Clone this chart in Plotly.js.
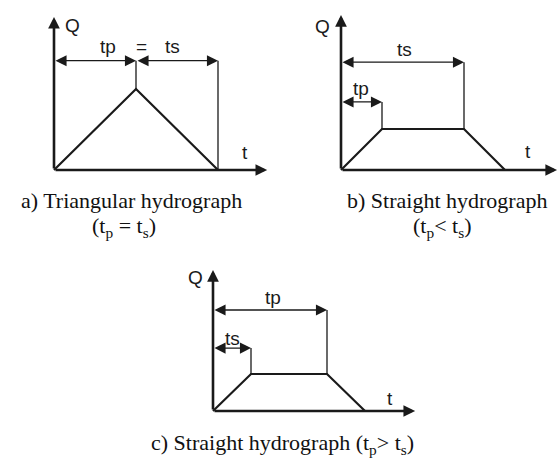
<!DOCTYPE html>
<html>
<head>
<meta charset="utf-8">
<script src="https://cdn.plot.ly/plotly-3.0.1.min.js"></script>
<style>
  html, body { margin: 0; padding: 0; background: #fff; }
  #hydro { width: 559px; height: 459px; }
</style>
</head>
<body>
<div id="hydro"></div>
<script>
// hydrograph shapes, t in units of the rising time, Q in units of the peak
const tri_t = [0, 1, 2];
const tri_Q = [0, 1, 0];
const strB_t = [0, 1, 3, 4];
const strB_Q = [0, 1, 1, 0];
const strC_t = [0, 1, 3, 4];
const strC_Q = [0, 1, 1, 0];

// dimension lines: [from t, to t, level Q, label]
const dimsA = [[0, 1, 1.35, 'tp'], [1, 2, 1.35, 'ts']];
const dimsB = [[0, 1, 1.66, 'tp'], [0, 3, 2.63, 'ts']];
const dimsC = [[0, 1, 1.70, 'ts'], [0, 3, 2.73, 'tp']];

const captions = [
  'a) Triangular hydrograph', '(t<sub>p</sub> = t<sub>s</sub>)',
  'b) Straight hydrograph', '(t<sub>p</sub>< t<sub>s</sub>)',
  'c) Straight hydrograph (t<sub>p</sub>> t<sub>s</sub>)'
];

const W = 559, H = 459;
const fx = px => px / W;
const fy = py => 1 - py / H;

// panel geometry in pixels: origin, px per unit, box, axis tips (units)
const panels = [
  {ox: 54, oy: 170, sx: 82, sy: 81, L: 40, R: 272, T: 8, B: 180, tipT: 2.6, tipQ: 1.89,
   t: tri_t, Q: tri_Q, dims: dimsA,
   labels: [['Q', 0.22, 1.79], ['tp', 0.66, 1.52], ['=', 1.07, 1.52], ['ts', 1.44, 1.52], ['t', 2.33, 0.22]]},
  {ox: 341, oy: 170, sx: 41, sy: 41, L: 305, R: 559, T: 8, B: 180, tipT: 5.27, tipQ: 3.78,
   t: strB_t, Q: strB_Q, dims: dimsB,
   labels: [['Q', -0.44, 3.49], ['ts', 1.56, 2.93], ['tp', 0.49, 2.0], ['t', 4.56, 0.46]]},
  {ox: 213, oy: 411, sx: 38, sy: 37, L: 180, R: 425, T: 262, B: 420, tipT: 5.32, tipQ: 3.81,
   t: strC_t, Q: strC_Q, dims: dimsC,
   labels: [['Q', -0.47, 3.62], ['tp', 1.58, 3.08], ['ts', 0.5, 1.95], ['t', 4.66, 0.35]]}
];

const ink = '#1a1a1a';
const labelFont = {family: 'Liberation Sans Narrow, Liberation Sans, Arial', size: 19, color: ink};
const data = [];
const annotations = [];
const layout = {
  width: W, height: H,
  margin: {l: 0, r: 0, t: 0, b: 0},
  paper_bgcolor: '#fff', plot_bgcolor: 'rgba(0,0,0,0)',
  showlegend: false
};

panels.forEach((p, i) => {
  const n = i === 0 ? '' : String(i + 1);
  const xa = 'x' + n, ya = 'y' + n;
  layout['xaxis' + n] = {
    domain: [fx(p.L), fx(p.R)], range: [(p.L - p.ox) / p.sx, (p.R - p.ox) / p.sx],
    visible: false, fixedrange: true, anchor: ya
  };
  layout['yaxis' + n] = {
    domain: [fy(p.B), fy(p.T)], range: [(p.oy - p.B) / p.sy, (p.oy - p.T) / p.sy],
    visible: false, fixedrange: true, anchor: xa
  };

  // the hydrograph
  data.push({x: p.t, y: p.Q, xaxis: xa, yaxis: ya, mode: 'lines',
             line: {color: ink, width: 2.2}, hoverinfo: 'skip'});

  // extension lines up to each dimension line
  p.dims.forEach(d => {
    const tEnd = d[1];
    const k = p.t.indexOf(tEnd);
    data.push({x: [tEnd, tEnd], y: [p.Q[k], d[2]], xaxis: xa, yaxis: ya, mode: 'lines',
               line: {color: ink, width: 1.3}, hoverinfo: 'skip'});
    annotations.push({xref: xa, yref: ya, axref: xa, ayref: ya,
      x: d[1], y: d[2], ax: d[0], ay: d[2], text: '', showarrow: true,
      arrowside: 'end+start', arrowhead: 2, arrowsize: 1.7, arrowwidth: 1.3, arrowcolor: ink});
  });

  // axes with arrow tips
  annotations.push({xref: xa, yref: ya, axref: xa, ayref: ya,
    x: p.tipT, y: 0, ax: 0, ay: 0, text: '', showarrow: true,
    arrowhead: 2, arrowsize: 0.9, arrowwidth: 2.6, arrowcolor: ink});
  annotations.push({xref: xa, yref: ya, axref: xa, ayref: ya,
    x: 0, y: p.tipQ, ax: 0, ay: 0, text: '', showarrow: true,
    arrowhead: 2, arrowsize: 0.9, arrowwidth: 2.6, arrowcolor: ink});

  p.labels.forEach(l => {
    annotations.push({xref: xa, yref: ya, x: l[1], y: l[2], text: l[0],
      showarrow: false, xanchor: 'center', yanchor: 'middle', font: labelFont});
  });
});

const capFont = {family: 'Liberation Serif, Times New Roman, serif', size: 22, color: '#111'};
const capPos = [[131, 200], [124, 227], [447, 200], [442, 227], [282, 444]];
captions.forEach((c, i) => {
  annotations.push({xref: 'paper', yref: 'paper', x: fx(capPos[i][0]), y: fy(capPos[i][1]),
    text: c, showarrow: false, xanchor: 'center', yanchor: 'middle', font: capFont});
});

layout.annotations = annotations;
Plotly.newPlot('hydro', data, layout, {staticPlot: true});
</script>
</body>
</html>
